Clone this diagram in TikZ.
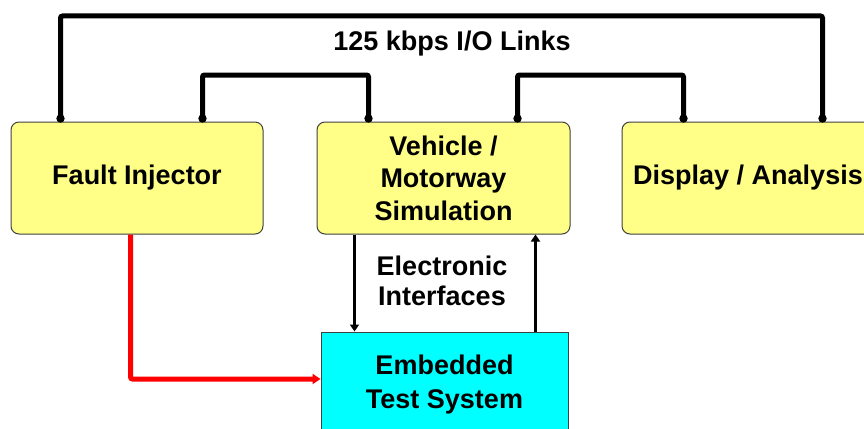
\documentclass[tikz,border=0pt]{standalone}
\usepackage{fontspec}
\setmainfont{Liberation Sans}
\usetikzlibrary{arrows.meta}
\definecolor{boxyellow}{RGB}{255,255,136}
\definecolor{boxcyan}{RGB}{0,255,255}
\definecolor{edge}{RGB}{64,64,64}
\tikzset{
  ybox/.style={draw=edge, line width=1pt, fill=boxyellow, rounded corners=8pt,
    minimum width=252pt, minimum height=112pt, inner sep=0pt, align=center,
    font=\fontsize{27}{32.5}\selectfont\bfseries},
  cbox/.style={draw=edge, line width=1pt, fill=boxcyan,
    minimum width=247pt, minimum height=106pt, inner sep=0pt, align=center,
    font=\fontsize{27}{34}\selectfont\bfseries},
  lbl/.style={align=center, inner sep=0pt, font=\fontsize{27}{29.5}\selectfont\bfseries},
  bus/.style={line width=5pt, rounded corners=2pt},
  sig/.style={line width=3.5pt, -{Triangle[length=7pt,width=9pt]}},
  inj/.style={line width=5pt, red, rounded corners=2pt, -{Triangle[length=8pt,width=10pt]}},
  jdot/.style={fill=black}
}
\begin{document}
\begin{tikzpicture}[x=1pt,y=-1pt]
\useasboundingbox (0,0) rectangle (864,428);
\clip (0,0) rectangle (864,428);
\node[ybox] (fi) at (137,178) {\raisebox{4pt}{Fault Injector}};
\node[ybox, minimum width=253pt] (vh) at (443.5,178) {Vehicle /\\Motorway\\Simulation};
\node[ybox] (da) at (748,178) {Display / Analysis};
\node[cbox] (et) at (444.5,385) {Embedded\\Test System};
\node[lbl] (links) at (452,44) {125 kbps I/O Links};
\node[lbl] (ei) at (442,281) {Electronic\\Interfaces};

\coordinate (top) at (0,16);
\coordinate (mid) at (0,75);
\coordinate (f1) at ([xshift=50pt]fi.north west);
\coordinate (f2) at ([xshift=192pt]fi.north west);
\coordinate (v1) at ([xshift=52pt]vh.north west);
\coordinate (v2) at ([xshift=201pt]vh.north west);
\coordinate (d1) at ([xshift=62pt]da.north west);
\coordinate (d2) at ([xshift=201pt]da.north west);

\draw[bus] (f1) -- (f1 |- top) -| (d2);
\draw[bus] (f2) -- (f2 |- mid) -| (v1);
\draw[bus] (v2) -- (v2 |- mid) -| (d1);
\foreach \p in {f1,f2,v1,v2,d1,d2} \fill[jdot] ([yshift=3pt]\p) circle (4.2pt);

\coordinate (s1) at ([xshift=38pt]vh.south west);
\coordinate (s2) at ([xshift=219pt]vh.south west);
\draw[sig] (s1) -- (s1 |- et.north);
\draw[sig] (s2 |- et.north) -- (s2);

\coordinate (r1) at ([xshift=120pt]fi.south west);
\coordinate (r2) at (0,379);
\draw[inj] (r1) -- (r1 |- r2) -- (et.west |- r2);
\end{tikzpicture}
\end{document}
